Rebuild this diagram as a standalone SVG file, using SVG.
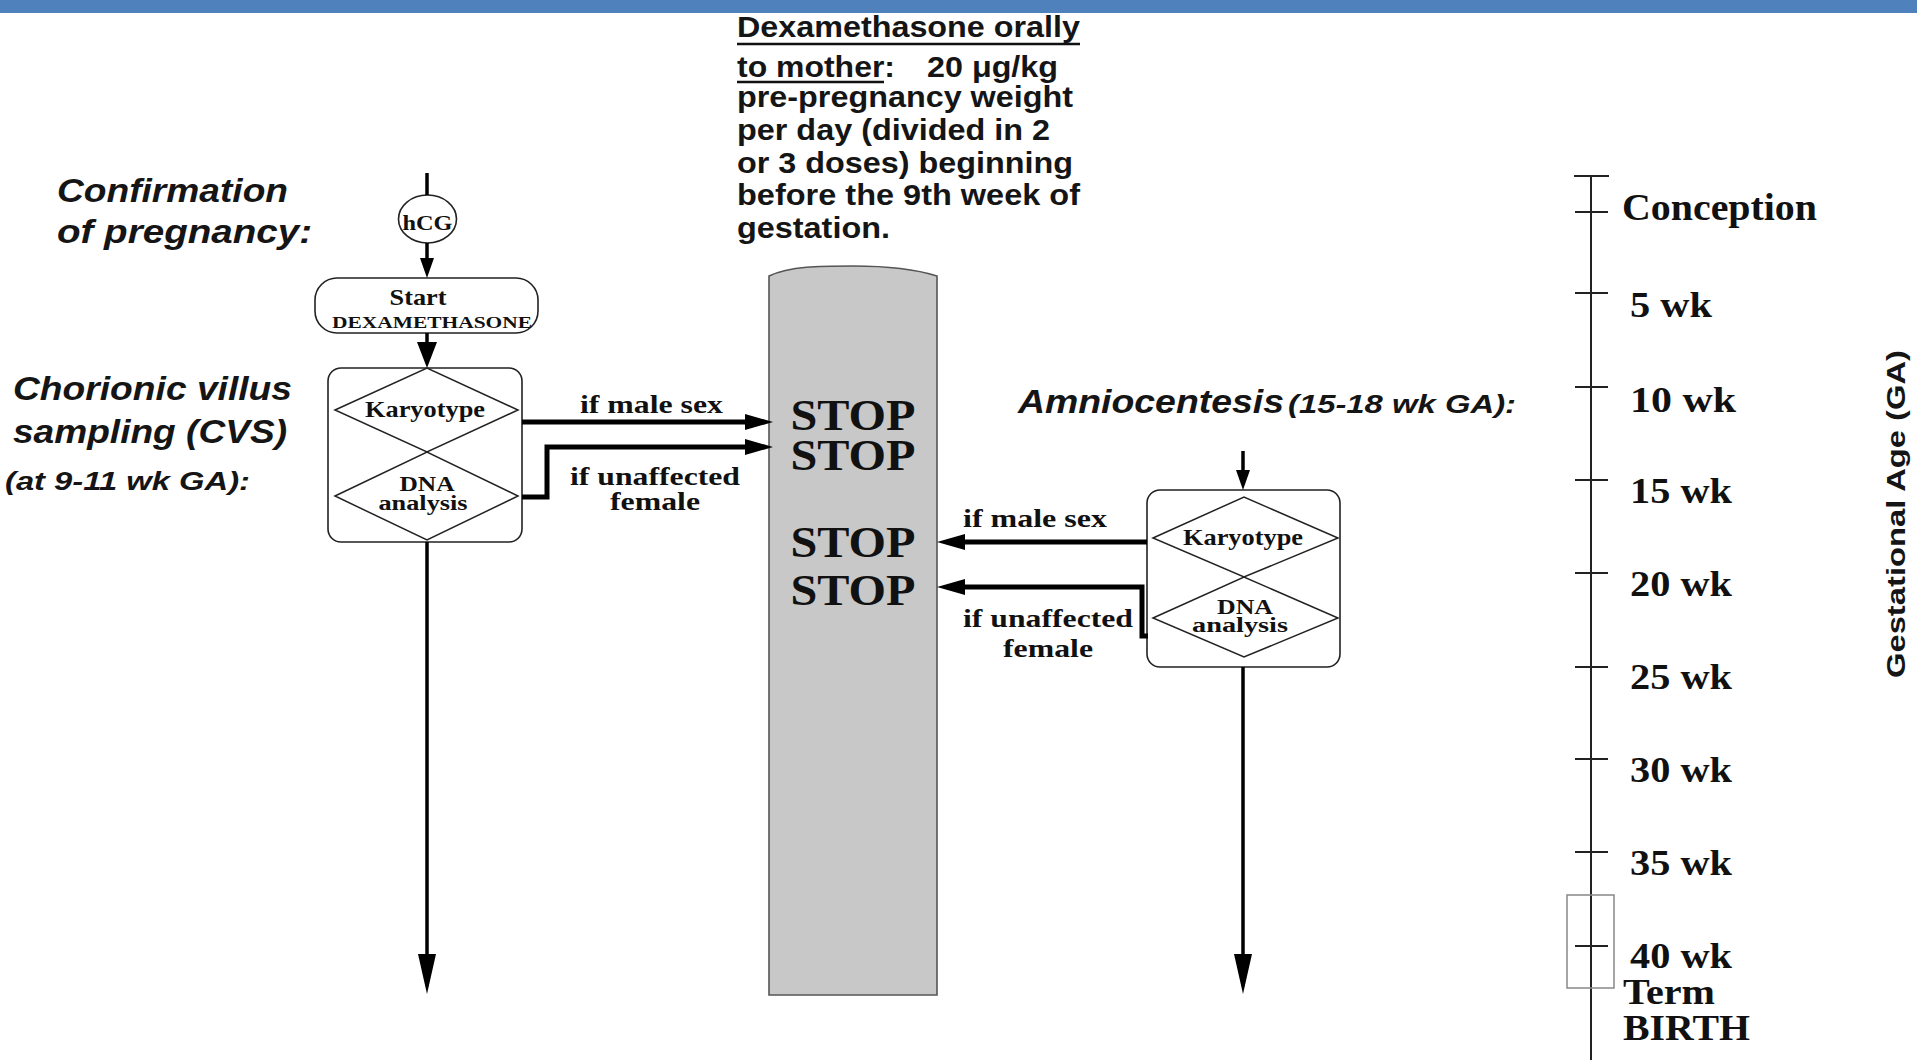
<svg xmlns="http://www.w3.org/2000/svg" width="1917" height="1060" viewBox="0 0 1917 1060">
  <style>
    .sansI { font-family: "Liberation Sans", Arial, sans-serif; font-weight: bold; font-style: italic; fill: #151515; }
    .sans { font-family: "Liberation Sans", Arial, sans-serif; font-weight: bold; fill: #151515; }
    .serif { font-family: "Liberation Serif", "Times New Roman", serif; font-weight: bold; fill: #111; }
    .box { fill: #fff; stroke: #222; stroke-width: 1.6; }
    .dia { fill: none; stroke: #222; stroke-width: 1.5; }
    .flow { fill: none; stroke: #000; stroke-width: 3.5; }
    .thick { fill: none; stroke: #000; stroke-width: 5; }
    .tick { fill: none; stroke: #222; stroke-width: 2; }
    .ul { stroke: #111; stroke-width: 2.5; }
  </style>
  <defs>
    <marker id="ah-small" markerUnits="userSpaceOnUse" markerWidth="20" markerHeight="14" refX="14" refY="7" orient="auto">
      <path d="M0,0 L20,7 L0,14 Z" fill="#000"/>
    </marker>
    <marker id="ah-med" markerUnits="userSpaceOnUse" markerWidth="26" markerHeight="20" refX="20" refY="10" orient="auto">
      <path d="M0,0 L26,10 L0,20 Z" fill="#000"/>
    </marker>
    <marker id="ah-thick" markerUnits="userSpaceOnUse" markerWidth="28" markerHeight="16" refX="18" refY="8" orient="auto">
      <path d="M0,0 L28,8 L0,16 Z" fill="#000"/>
    </marker>
    <marker id="ah-long" markerUnits="userSpaceOnUse" markerWidth="40" markerHeight="18" refX="32" refY="9" orient="auto">
      <path d="M0,0 L40,9 L0,18 Z" fill="#000"/>
    </marker>
  </defs>

  <rect width="1917" height="1060" fill="#fff"/>
  <!-- header band -->
  <rect x="0" y="0" width="1917" height="13" fill="#4F81BD"/>

  <!-- treatment description -->
  <g id="dosage-note">
    <text class="sans" x="737" y="37" font-size="29" textLength="343" lengthAdjust="spacingAndGlyphs">Dexamethasone orally</text>
    <line class="ul" x1="737" y1="44" x2="1080" y2="44"/>
    <text class="sans" x="737" y="77" font-size="29" textLength="158" lengthAdjust="spacingAndGlyphs">to mother:</text>
    <line class="ul" x1="737" y1="82" x2="884" y2="82"/>
    <text class="sans" x="927" y="77" font-size="29" textLength="131" lengthAdjust="spacingAndGlyphs">20 μg/kg</text>
    <text class="sans" x="737" y="107" font-size="29" textLength="336" lengthAdjust="spacingAndGlyphs">pre-pregnancy weight</text>
    <text class="sans" x="737" y="140" font-size="29" textLength="313" lengthAdjust="spacingAndGlyphs">per day (divided in 2</text>
    <text class="sans" x="737" y="173" font-size="29" textLength="336" lengthAdjust="spacingAndGlyphs">or 3 doses) beginning</text>
    <text class="sans" x="737" y="205" font-size="29" textLength="343" lengthAdjust="spacingAndGlyphs">before the 9th week of</text>
    <text class="sans" x="737" y="238" font-size="29" textLength="153" lengthAdjust="spacingAndGlyphs">gestation.</text>
  </g>

  <!-- side captions -->
  <g id="caption-confirmation">
    <text class="sansI" x="57" y="202" font-size="34" textLength="231" lengthAdjust="spacingAndGlyphs">Confirmation</text>
    <text class="sansI" x="57" y="243" font-size="34" textLength="255" lengthAdjust="spacingAndGlyphs">of pregnancy:</text>
  </g>
  <g id="caption-cvs">
    <text class="sansI" x="13" y="400" font-size="33" textLength="279" lengthAdjust="spacingAndGlyphs">Chorionic villus</text>
    <text class="sansI" x="13" y="443" font-size="33" textLength="274" lengthAdjust="spacingAndGlyphs">sampling (CVS)</text>
    <text class="sansI" x="5" y="490" font-size="26" textLength="245" lengthAdjust="spacingAndGlyphs">(at 9-11 wk GA):</text>
  </g>
  <g id="caption-amnio">
    <text class="sansI" x="1018" y="413" font-size="34" textLength="266" lengthAdjust="spacingAndGlyphs">Amniocentesis</text>
    <text class="sansI" x="1288" y="413" font-size="26" textLength="228" lengthAdjust="spacingAndGlyphs">(15-18 wk GA):</text>
  </g>

  <!-- treatment column -->
  <g id="treatment-column">
    <path d="M769,276 C790,266 820,266 853,266 C890,266 915,269 937,276 V995 H769 Z" fill="#C8C8C8" stroke="#555" stroke-width="1.6"/>
    <text class="serif" x="853" y="430" font-size="44" text-anchor="middle" textLength="125" lengthAdjust="spacingAndGlyphs">STOP</text>
    <text class="serif" x="853" y="470" font-size="44" text-anchor="middle" textLength="125" lengthAdjust="spacingAndGlyphs">STOP</text>
    <text class="serif" x="853" y="557" font-size="44" text-anchor="middle" textLength="125" lengthAdjust="spacingAndGlyphs">STOP</text>
    <text class="serif" x="853" y="605" font-size="44" text-anchor="middle" textLength="125" lengthAdjust="spacingAndGlyphs">STOP</text>
  </g>

  <!-- left flow nodes -->
  <g id="node-hcg">
    <ellipse cx="427.5" cy="219" rx="29" ry="24" class="box"/>
    <text class="serif" x="427.5" y="230" font-size="22" text-anchor="middle" textLength="50" lengthAdjust="spacingAndGlyphs">hCG</text>
  </g>
  <g id="node-start">
    <rect x="315" y="278" width="223" height="55" rx="22" class="box"/>
    <text class="serif" x="418" y="305" font-size="23" text-anchor="middle" textLength="57" lengthAdjust="spacingAndGlyphs">Start</text>
    <text class="serif" x="432" y="328" font-size="17" text-anchor="middle" textLength="200" lengthAdjust="spacingAndGlyphs">DEXAMETHASONE</text>
  </g>
  <g id="node-cvs">
    <rect x="328" y="368" width="194" height="174" rx="13" class="box"/>
    <polygon class="dia" points="335,410 427,368 518,410 427,452"/>
    <polygon class="dia" points="335,496 427,452 518,496 427,540"/>
    <text class="serif" x="425" y="417" font-size="23" text-anchor="middle" textLength="120" lengthAdjust="spacingAndGlyphs">Karyotype</text>
    <text class="serif" x="427" y="491" font-size="21" text-anchor="middle" textLength="55" lengthAdjust="spacingAndGlyphs">DNA</text>
    <text class="serif" x="423" y="510" font-size="20" text-anchor="middle" textLength="89" lengthAdjust="spacingAndGlyphs">analysis</text>
  </g>

  <!-- right flow node -->
  <g id="node-amnio">
    <rect x="1147" y="490" width="193" height="177" rx="13" class="box"/>
    <polygon class="dia" points="1153,538 1244,497 1338,538 1244,577"/>
    <polygon class="dia" points="1153,618 1244,577 1338,618 1244,657"/>
    <text class="serif" x="1243" y="545" font-size="23" text-anchor="middle" textLength="120" lengthAdjust="spacingAndGlyphs">Karyotype</text>
    <text class="serif" x="1245" y="614" font-size="21" text-anchor="middle" textLength="56" lengthAdjust="spacingAndGlyphs">DNA</text>
    <text class="serif" x="1240" y="632" font-size="20" text-anchor="middle" textLength="96" lengthAdjust="spacingAndGlyphs">analysis</text>
  </g>

  <!-- connectors -->
  <g id="connectors">
    <path class="flow" d="M427,173 V195"/>
    <path class="flow" d="M427,243 V272" marker-end="url(#ah-small)"/>
    <path class="flow" d="M427,333 V362" marker-end="url(#ah-med)"/>
    <path class="flow" d="M427,542 V986" marker-end="url(#ah-long)"/>
    <path class="thick" d="M522,422 H763" marker-end="url(#ah-thick)"/>
    <path class="thick" d="M522,497 H547 V447 H763" marker-end="url(#ah-thick)"/>
    <path class="thick" d="M1147,542 H947" marker-end="url(#ah-thick)"/>
    <path class="thick" d="M1148,636 H1142 V587 H947" marker-end="url(#ah-thick)"/>
    <path class="flow" d="M1243,451 V484" marker-end="url(#ah-small)"/>
    <path class="flow" d="M1243,667 V986" marker-end="url(#ah-long)"/>
    <!-- connector labels -->
    <text class="serif" x="580" y="413" font-size="26" textLength="143" lengthAdjust="spacingAndGlyphs">if male sex</text>
    <text class="serif" x="570" y="485" font-size="26" textLength="170" lengthAdjust="spacingAndGlyphs">if unaffected</text>
    <text class="serif" x="610" y="510" font-size="26" textLength="90" lengthAdjust="spacingAndGlyphs">female</text>
    <text class="serif" x="963" y="527" font-size="26" textLength="144" lengthAdjust="spacingAndGlyphs">if male sex</text>
    <text class="serif" x="963" y="627" font-size="26" textLength="170" lengthAdjust="spacingAndGlyphs">if unaffected</text>
    <text class="serif" x="1003" y="657" font-size="26" textLength="90" lengthAdjust="spacingAndGlyphs">female</text>
  </g>

  <!-- gestational age scale -->
  <g id="timeline">
    <path class="tick" d="M1591,176 V1060"/>
    <path class="tick" d="M1574,176 H1609 M1575,212 H1608 M1575,293 H1608 M1575,387 H1608 M1575,480 H1608 M1575,573 H1608 M1575,667 H1608 M1575,759 H1608 M1575,852 H1608 M1575,946 H1608"/>
    <rect x="1567" y="895" width="47" height="93" fill="none" stroke="#888" stroke-width="1.5"/>
    <text class="serif" x="1622" y="220" font-size="37" textLength="195" lengthAdjust="spacingAndGlyphs">Conception</text>
    <text class="serif" x="1630" y="317" font-size="35" textLength="82" lengthAdjust="spacingAndGlyphs">5 wk</text>
    <text class="serif" x="1630" y="412" font-size="35" textLength="106" lengthAdjust="spacingAndGlyphs">10 wk</text>
    <text class="serif" x="1630" y="503" font-size="35" textLength="102" lengthAdjust="spacingAndGlyphs">15 wk</text>
    <text class="serif" x="1630" y="596" font-size="35" textLength="102" lengthAdjust="spacingAndGlyphs">20 wk</text>
    <text class="serif" x="1630" y="689" font-size="35" textLength="102" lengthAdjust="spacingAndGlyphs">25 wk</text>
    <text class="serif" x="1630" y="782" font-size="35" textLength="102" lengthAdjust="spacingAndGlyphs">30 wk</text>
    <text class="serif" x="1630" y="875" font-size="35" textLength="102" lengthAdjust="spacingAndGlyphs">35 wk</text>
    <text class="serif" x="1630" y="968" font-size="35" textLength="102" lengthAdjust="spacingAndGlyphs">40 wk</text>
    <text class="serif" x="1623" y="1004" font-size="36" textLength="92" lengthAdjust="spacingAndGlyphs">Term</text>
    <text class="serif" x="1623" y="1040" font-size="36" textLength="127" lengthAdjust="spacingAndGlyphs">BIRTH</text>
    <text class="sans" transform="translate(1905,514) rotate(-90)" x="0" y="0" font-size="25" text-anchor="middle" fill="#222" textLength="328" lengthAdjust="spacingAndGlyphs">Gestational Age (GA)</text>
  </g>
</svg>
